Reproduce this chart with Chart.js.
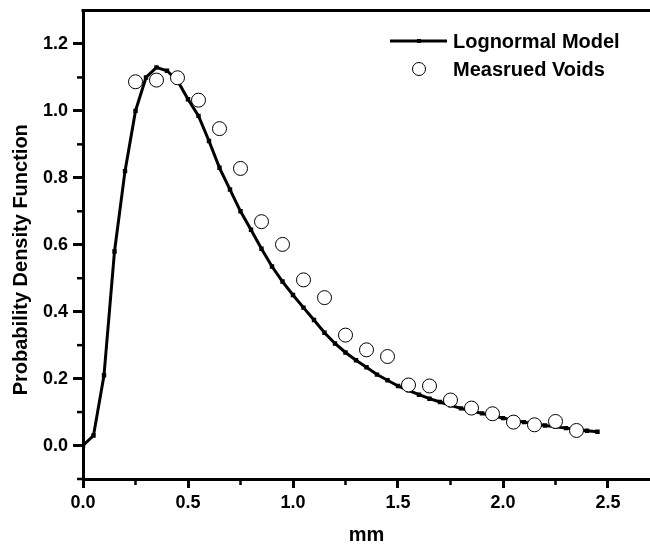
<!DOCTYPE html>
<html>
<head>
<meta charset="utf-8">
<script src="https://cdn.jsdelivr.net/npm/chart.js@4.4.0/dist/chart.umd.min.js"></script>
<style>
  body { margin: 0; background: #fff; }
  #wrap { width: 650px; height: 545px; }
</style>
</head>
<body>
<div id="wrap"><canvas id="grafica"></canvas></div>
<script>
// lognormal model curve
const modelX = [0, 0.05, 0.1, 0.15, 0.2, 0.25, 0.3, 0.35, 0.4, 0.45,
    0.5, 0.55, 0.6, 0.65, 0.7, 0.75, 0.8, 0.85, 0.9, 0.95,
    1.0, 1.05, 1.1, 1.15, 1.2, 1.25, 1.3, 1.35, 1.4, 1.45,
    1.5, 1.55, 1.6, 1.65, 1.7, 1.75, 1.8, 1.85, 1.9, 1.95,
    2.0, 2.05, 2.1, 2.15, 2.2, 2.25, 2.3, 2.35, 2.4, 2.45];
const modelY = [0, 0.03, 0.21, 0.58, 0.82, 1.0, 1.10, 1.13, 1.12, 1.09,
    1.035, 0.985, 0.91, 0.83, 0.765, 0.70, 0.645, 0.588, 0.535, 0.49,
    0.45, 0.412, 0.375, 0.337, 0.305, 0.278, 0.255, 0.234, 0.212, 0.195,
    0.178, 0.165, 0.152, 0.14, 0.13, 0.12, 0.111, 0.103, 0.096, 0.089,
    0.082, 0.076, 0.07, 0.065, 0.06, 0.056, 0.052, 0.048, 0.044, 0.041];

// measured voids
const voidX = [0.25, 0.35, 0.45, 0.55, 0.65, 0.75, 0.85, 0.95, 1.05, 1.15, 1.25,
    1.35, 1.45, 1.55, 1.65, 1.75, 1.85, 1.95, 2.05, 2.15, 2.25, 2.35];
const voidY = [1.087, 1.092, 1.099, 1.032, 0.947, 0.828, 0.669, 0.601, 0.495, 0.442, 0.330,
    0.286, 0.266, 0.181, 0.178, 0.136, 0.112, 0.095, 0.070, 0.062, 0.072, 0.045];

const xTicks = [0, 0.5, 1.0, 1.5, 2.0, 2.5];
const yTicks = [0, 0.2, 0.4, 0.6, 0.8, 1.0, 1.2];
const xMinor = [0.25, 0.75, 1.25, 1.75, 2.25];
const yMinor = [-0.1, 0.1, 0.3, 0.5, 0.7, 0.9, 1.1];

const labels = ['Lognormal Model', 'Measrued Voids'];
const yTitle = 'Probability Density Function';

const tickFont = {family: 'Liberation Sans, Arial, sans-serif', size: 18, weight: 'bold'};

// frame top, minor ticks, y title and legend
const extras = {
    id: 'extras',
    afterDraw(chart) {
        const {ctx, chartArea: a, scales: {x, y}} = chart;
        ctx.save();
        ctx.strokeStyle = '#000';
        ctx.fillStyle = '#000';
        ctx.lineWidth = 3;
        ctx.beginPath();
        ctx.moveTo(a.left - 1.5, a.top);
        ctx.lineTo(a.right, a.top);
        ctx.stroke();

        ctx.lineWidth = 2.5;
        xMinor.forEach(v => {
            const px = x.getPixelForValue(v);
            ctx.beginPath(); ctx.moveTo(px, a.bottom); ctx.lineTo(px, a.bottom + 6); ctx.stroke();
        });
        yMinor.forEach(v => {
            const py = y.getPixelForValue(v);
            ctx.beginPath(); ctx.moveTo(a.left, py); ctx.lineTo(a.left - 6, py); ctx.stroke();
        });

        ctx.font = 'bold 20px "Liberation Sans", Arial, sans-serif';
        ctx.textBaseline = 'middle';

        ctx.save();
        ctx.translate(21, (a.top + a.bottom) / 2 + 15);
        ctx.rotate(-Math.PI / 2);
        ctx.textAlign = 'center';
        ctx.fillText(yTitle, 0, 0);
        ctx.restore();

        // legend
        ctx.textAlign = 'left';
        ctx.lineWidth = 3;
        ctx.beginPath(); ctx.moveTo(390, 41); ctx.lineTo(447, 41); ctx.stroke();
        ctx.fillRect(417, 39, 4, 4);
        ctx.fillText(labels[0], 453, 42);
        ctx.lineWidth = 1;
        ctx.fillStyle = '#fff';
        ctx.beginPath(); ctx.arc(419, 69, 6.5, 0, Math.PI * 2); ctx.fill(); ctx.stroke();
        ctx.fillStyle = '#000';
        ctx.fillText(labels[1], 453, 70);
        ctx.restore();
    }
};

const data = {
    datasets: [
        {
            label: labels[1],
            data: voidX.map((v, i) => ({x: v, y: voidY[i]})),
            showLine: false,
            pointStyle: 'circle',
            pointRadius: 7,
            pointBackgroundColor: '#fff',
            pointBorderColor: '#000',
            pointBorderWidth: 1,
            order: 0
        },
        {
            label: labels[0],
            data: modelX.map((v, i) => ({x: v, y: modelY[i]})),
            showLine: true,
            borderColor: '#000',
            borderWidth: 3,
            pointStyle: 'rect',
            pointRadius: 1,
            pointBackgroundColor: '#000',
            pointBorderColor: '#000',
            tension: 0,
            order: 1
        }
    ]
};

const config = {
    type: 'scatter',
    data: data,
    options: {
        responsive: true,
        maintainAspectRatio: false,
        animation: false,
        layout: {autoPadding: false, padding: {top: 10.5, left: 0, right: 0, bottom: 0}},
        plugins: {legend: {display: false}, tooltip: {enabled: false}},
        scales: {
            x: {
                type: 'linear',
                min: 0,
                max: 2.7,
                afterBuildTicks: s => { s.ticks = xTicks.map(v => ({value: v})); },
                afterFit: s => { s.height = 66; },
                ticks: {font: tickFont, color: '#000', padding: 4, maxRotation: 0, autoSkip: false,
                    callback: v => v.toFixed(1)},
                grid: {drawOnChartArea: false, tickLength: 9, tickWidth: 3, tickColor: '#000', color: '#000'},
                border: {display: true, color: '#000', width: 3},
                title: {display: true, text: 'mm', color: '#000', padding: 0,
                    font: {family: 'Liberation Sans, Arial, sans-serif', size: 20, weight: 'bold', lineHeight: 1}}
            },
            y: {
                type: 'linear',
                min: -0.1,
                max: 1.3,
                afterBuildTicks: s => { s.ticks = yTicks.map(v => ({value: v})); },
                afterFit: s => { s.width = 83; s.paddingTop = 0; s.paddingBottom = 0; },
                ticks: {font: tickFont, color: '#000', padding: 5, callback: v => v.toFixed(1)},
                grid: {drawOnChartArea: false, tickLength: 10, tickWidth: 3, tickColor: '#000', color: '#000'},
                border: {display: true, color: '#000', width: 3}
            }
        }
    },
    plugins: [extras]
};

const ctx = document.getElementById('grafica').getContext('2d');
const grafica = new Chart(ctx, config);
</script>
</body>
</html>
